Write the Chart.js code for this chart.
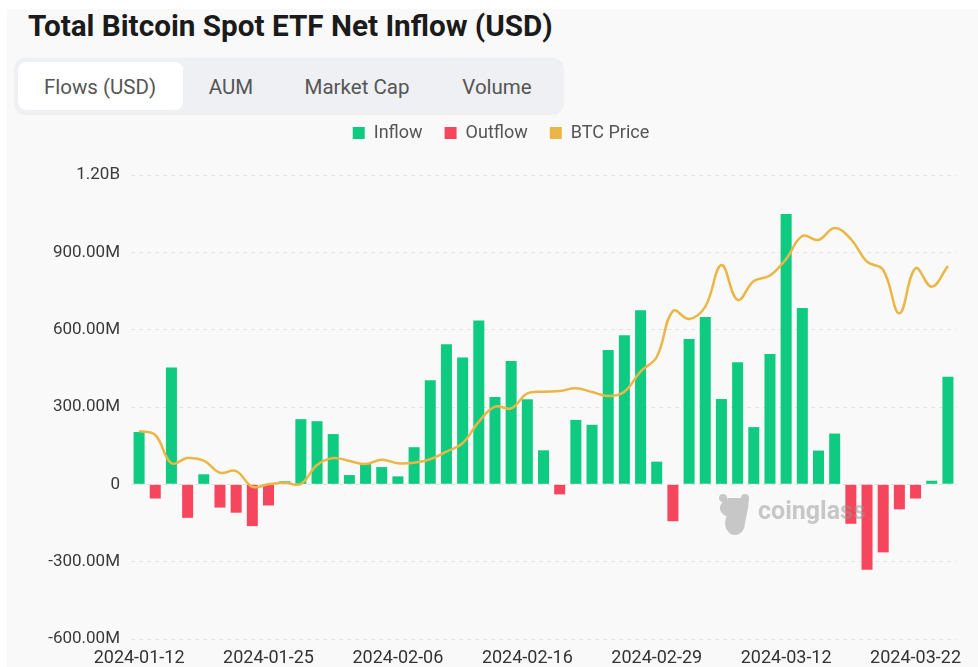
<!DOCTYPE html>
<html lang="en">
<head>
    <meta charset="UTF-8">
    <title>Total Bitcoin Spot ETF Net Inflow (USD)</title>
    <script src="https://cdn.jsdelivr.net/npm/chart.js@4.4.1/dist/chart.umd.min.js"></script>
    <style>
        body { margin: 0; width: 978px; height: 667px; overflow: hidden; background: #fff; font-family: Roboto, sans-serif; }
        .panel { position: absolute; left: 7px; top: 9px; right: 0; bottom: 0; background: #f9f9f9; }
        h1 { position: absolute; left: 28px; top: 11px; margin: 0; font-size: 29.7px; line-height: 30px; font-weight: 700; color: #1b1b1b; }
        .tabs { position: absolute; left: 15px; top: 58px; width: 548px; height: 55px; border-radius: 10px; background: #eef0f3; box-shadow: 0 1px 3px rgba(0,0,0,0.08); }
        .tab-on { position: absolute; left: 18px; top: 62px; width: 165px; height: 48px; border-radius: 8px; background: #fff; }
        .tab { position: absolute; top: 75px; font-size: 20.5px; line-height: 24px; color: #555; transform: translateX(-50%); white-space: nowrap; }
        .chart-box { position: absolute; left: 12px; top: 102px; width: 978px; height: 565px; }
    </style>
</head>
<body>
    <div class="panel"></div>
    <h1>Total Bitcoin Spot ETF Net Inflow (USD)</h1>
    <div class="tabs"></div>
    <div class="tab-on"></div>
    <span class="tab" style="left:100px">Flows (USD)</span>
    <span class="tab" style="left:231px">AUM</span>
    <span class="tab" style="left:357px">Market Cap</span>
    <span class="tab" style="left:497px">Volume</span>

    <div class="chart-box"><canvas id="flowChart"></canvas></div>

    <script>
        // trading days shown on the chart
        const dates = [
            '2024-01-12', '2024-01-16', '2024-01-17', '2024-01-18', '2024-01-19', '2024-01-22', '2024-01-23',
            '2024-01-24', '2024-01-25', '2024-01-26', '2024-01-29', '2024-01-30', '2024-01-31',
            '2024-02-01', '2024-02-02', '2024-02-05', '2024-02-06', '2024-02-07', '2024-02-08', '2024-02-09',
            '2024-02-12', '2024-02-13', '2024-02-14', '2024-02-15', '2024-02-16', '2024-02-20', '2024-02-21',
            '2024-02-22', '2024-02-23', '2024-02-26', '2024-02-27', '2024-02-28', '2024-02-29',
            '2024-03-01', '2024-03-04', '2024-03-05', '2024-03-06', '2024-03-07', '2024-03-08', '2024-03-11',
            '2024-03-12', '2024-03-13', '2024-03-14', '2024-03-15', '2024-03-18', '2024-03-19', '2024-03-20',
            '2024-03-21', '2024-03-22', '2024-03-25', '2024-03-26'
        ];

        // net flow, millions of USD
        const netFlowM = [
            203, -55, 453, -130, 39, -90, -110, -162, -82, 12,
            253, 245, 195, 36, 81, 67, 31, 144, 404, 543,
            492, 636, 339, 478, 330, 132, -39, 250, 231, 521,
            578, 675, 88, -143, 564, 649, 331, 474, 222, 506,
            1049, 684, 131, 197, -153, -331, -264, -97, -55, 14,
            417
        ];

        // BTC price, USD
        const btcPrice = [
            46900, 46380, 42720, 43400, 43060, 41500, 41720, 39690, 40000, 40210,
            40040, 42500, 43400, 43020, 42630, 43190, 42720, 42800, 43240, 44220,
            45310, 48100, 50040, 49830, 51750, 51980, 52070, 52420, 51940, 51420,
            51980, 54590, 56470, 62410, 61380, 62970, 68360, 63840, 66290, 67000,
            69140, 72110, 71600, 73150, 71720, 68790, 67720, 62120, 67940, 65560,
            68230
        ];

        const yTicks = [-600e6, -300e6, 0, 300e6, 600e6, 900e6, 1200e6];
        const labelEvery = 8;

        const GREEN = '#0ecb81';
        const RED = '#f6465d';
        const GOLD = '#ebb646';

        const inflow = netFlowM.map(v => v >= 0 ? v * 1e6 : null);
        const outflow = netFlowM.map(v => v < 0 ? v * 1e6 : null);

        function fmtFlow(v) {
            if (v === 0) return '0';
            if (Math.abs(v) >= 1e9) return (v / 1e9).toFixed(2) + 'B';
            return (v / 1e6).toFixed(2) + 'M';
        }

        // make room between legend and plot
        const legendSpace = {
            id: 'legendSpace',
            beforeInit(chart) {
                const fit = chart.legend.fit;
                chart.legend.fit = function () {
                    fit.call(this);
                    this.height = 73;
                };
            }
        };

        // coinglass watermark, drawn over the bars
        const watermark = {
            id: 'watermark',
            afterDatasetsDraw(chart) {
                const { ctx, chartArea } = chart;
                const x = chartArea.left + 603;
                const y = chartArea.top + 330;
                ctx.save();
                ctx.fillStyle = 'rgba(150,150,150,0.5)';
                ctx.beginPath();
                ctx.ellipse(x, y + 3, 14, 10, 0, 0, Math.PI * 2);
                ctx.ellipse(x + 1, y + 18, 10, 12, 0, 0, Math.PI * 2);
                ctx.arc(x - 11, y - 7, 4, 0, Math.PI * 2);
                ctx.arc(x + 11, y - 7, 4, 0, Math.PI * 2);
                ctx.fill('nonzero');
                ctx.font = 'bold 25px Roboto';
                ctx.textBaseline = 'alphabetic';
                ctx.fillText('coinglass', x + 24, y + 14);
                ctx.restore();
            }
        };

        new Chart(document.getElementById('flowChart'), {
            data: {
                labels: dates,
                datasets: [
                    {
                        type: 'bar',
                        label: 'Inflow',
                        data: inflow,
                        backgroundColor: GREEN,
                        borderColor: GREEN,
                        borderWidth: 0,
                        grouped: false,
                        barPercentage: 0.68,
                        categoryPercentage: 1,
                        order: 2
                    },
                    {
                        type: 'bar',
                        label: 'Outflow',
                        data: outflow,
                        backgroundColor: RED,
                        borderColor: RED,
                        borderWidth: 0,
                        grouped: false,
                        barPercentage: 0.68,
                        categoryPercentage: 1,
                        order: 3
                    },
                    {
                        type: 'line',
                        label: 'BTC Price',
                        data: btcPrice,
                        yAxisID: 'y1',
                        borderColor: GOLD,
                        backgroundColor: GOLD,
                        borderWidth: 2.5,
                        pointRadius: 0,
                        tension: 0.4,
                        order: 1
                    }
                ]
            },
            options: {
                responsive: true,
                maintainAspectRatio: false,
                animation: false,
                layout: { padding: { top: 0, right: 34, bottom: 0, left: 34 } },
                plugins: {
                    tooltip: { enabled: false },
                    legend: {
                        position: 'top',
                        align: 'center',
                        labels: {
                            font: { family: 'Roboto', size: 18 },
                            color: '#555',
                            boxWidth: 12,
                            boxHeight: 12,
                            padding: 22,
                            sort: (a, b) => a.datasetIndex - b.datasetIndex,
                            generateLabels(chart) {
                                return Chart.defaults.plugins.legend.labels.generateLabels(chart)
                                    .map(l => ({ ...l, lineWidth: 0, fillStyle: l.strokeStyle }));
                            }
                        }
                    }
                },
                scales: {
                    x: {
                        grid: { display: false, drawTicks: false },
                        border: { display: false },
                        afterFit(scale) { scale.height = 28; },
                        ticks: {
                            autoSkip: false,
                            maxRotation: 0,
                            padding: 9,
                            color: '#333',
                            font: { family: 'Roboto', size: 18 },
                            callback(v, i) { return i % labelEvery === 0 ? dates[i] : ''; }
                        }
                    },
                    y: {
                        min: yTicks[0],
                        max: yTicks[yTicks.length - 1],
                        afterFit(scale) { scale.width = 85; },
                        afterBuildTicks(scale) { scale.ticks = yTicks.map(v => ({ value: v })); },
                        grid: { color: '#e2e2e2', drawTicks: false },
                        border: { display: false, dash: [4, 4] },
                        ticks: {
                            padding: 11,
                            color: '#3a3a3a',
                            font: { family: 'Roboto', size: 17 },
                            callback: v => fmtFlow(v)
                        }
                    },
                    y1: {
                        display: false,
                        min: 20000,
                        max: 80000
                    }
                }
            },
            plugins: [legendSpace, watermark]
        });
    </script>
</body>
</html>
